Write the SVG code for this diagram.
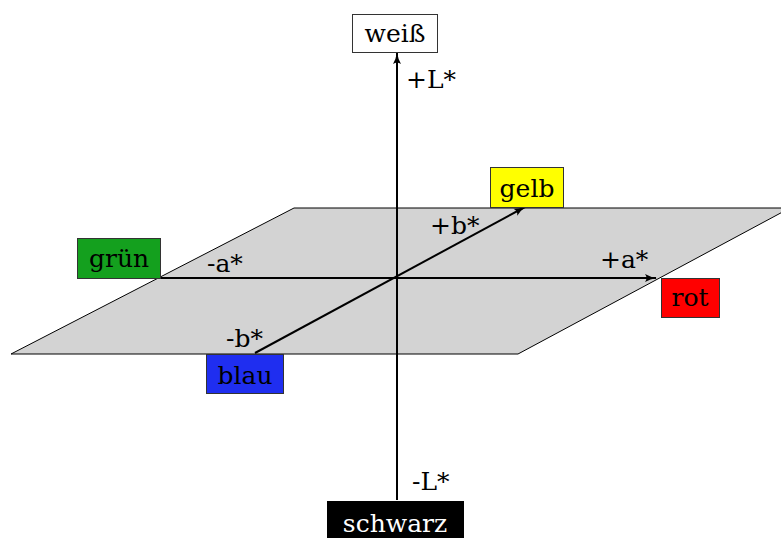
<svg xmlns="http://www.w3.org/2000/svg" width="781" height="538" viewBox="0 0 781 538">
<style>
.t{font-family:"DejaVu Serif","Liberation Serif",serif;font-size:25px;fill:#000}
.c{text-anchor:middle}
.box{stroke:#333;stroke-width:1}
.ax{stroke:#000;stroke-width:2;fill:none}
</style>
<defs>
<marker id="ah" viewBox="0 0 12 10" refX="11" refY="5" markerWidth="12" markerHeight="10" markerUnits="userSpaceOnUse" orient="auto">
<path d="M0,1 Q5,4 12,5 Q5,6 0,9 Q3,5 0,1 Z" fill="#000"/>
</marker>
</defs>
<g id="plane">
<polygon points="11,354 294,208 790,208 518,354" fill="#d3d3d3" stroke="#000" stroke-width="1"/>
</g>
<g id="connectors">
<line class="ax" x1="397" y1="500" x2="397" y2="53" marker-end="url(#ah)"/>
<line class="ax" x1="160" y1="278" x2="656" y2="278" marker-end="url(#ah)"/>
<line class="ax" x1="255" y1="353" x2="525" y2="207" marker-end="url(#ah)"/>
</g>
<g id="axis-labels">
<text class="t" x="406" y="88">+L*</text>
<text class="t" x="412" y="490">-L*</text>
<text class="t" x="430" y="234">+b*</text>
<text class="t" x="226" y="347">-b*</text>
<text class="t" x="207" y="272">-a*</text>
<text class="t" x="600" y="268">+a*</text>
</g>
<g id="weiss">
<rect class="box" x="352.5" y="14.5" width="85" height="38" fill="#fff"/>
<text class="t c" x="395" y="42">weiß</text>
</g>
<g id="gelb">
<rect class="box" x="490.5" y="167.5" width="73" height="40" fill="#ffff00"/>
<text class="t c" x="527" y="197">gelb</text>
</g>
<g id="gruen">
<rect class="box" x="77.5" y="238.5" width="83" height="40" fill="#14a01e"/>
<text class="t c" x="119" y="267">grün</text>
</g>
<g id="rot">
<rect class="box" x="661.5" y="278.5" width="58" height="39" fill="#ff0000"/>
<text class="t c" x="690" y="306">rot</text>
</g>
<g id="blau">
<rect class="box" x="206.5" y="354.5" width="77" height="39" fill="#1f2ef0"/>
<text class="t c" x="245" y="384">blau</text>
</g>
<g id="schwarz">
<rect x="327" y="501" width="137" height="40" fill="#000"/>
<text class="t c" x="395" y="532" style="fill:#fff">schwarz</text>
</g>
</svg>
